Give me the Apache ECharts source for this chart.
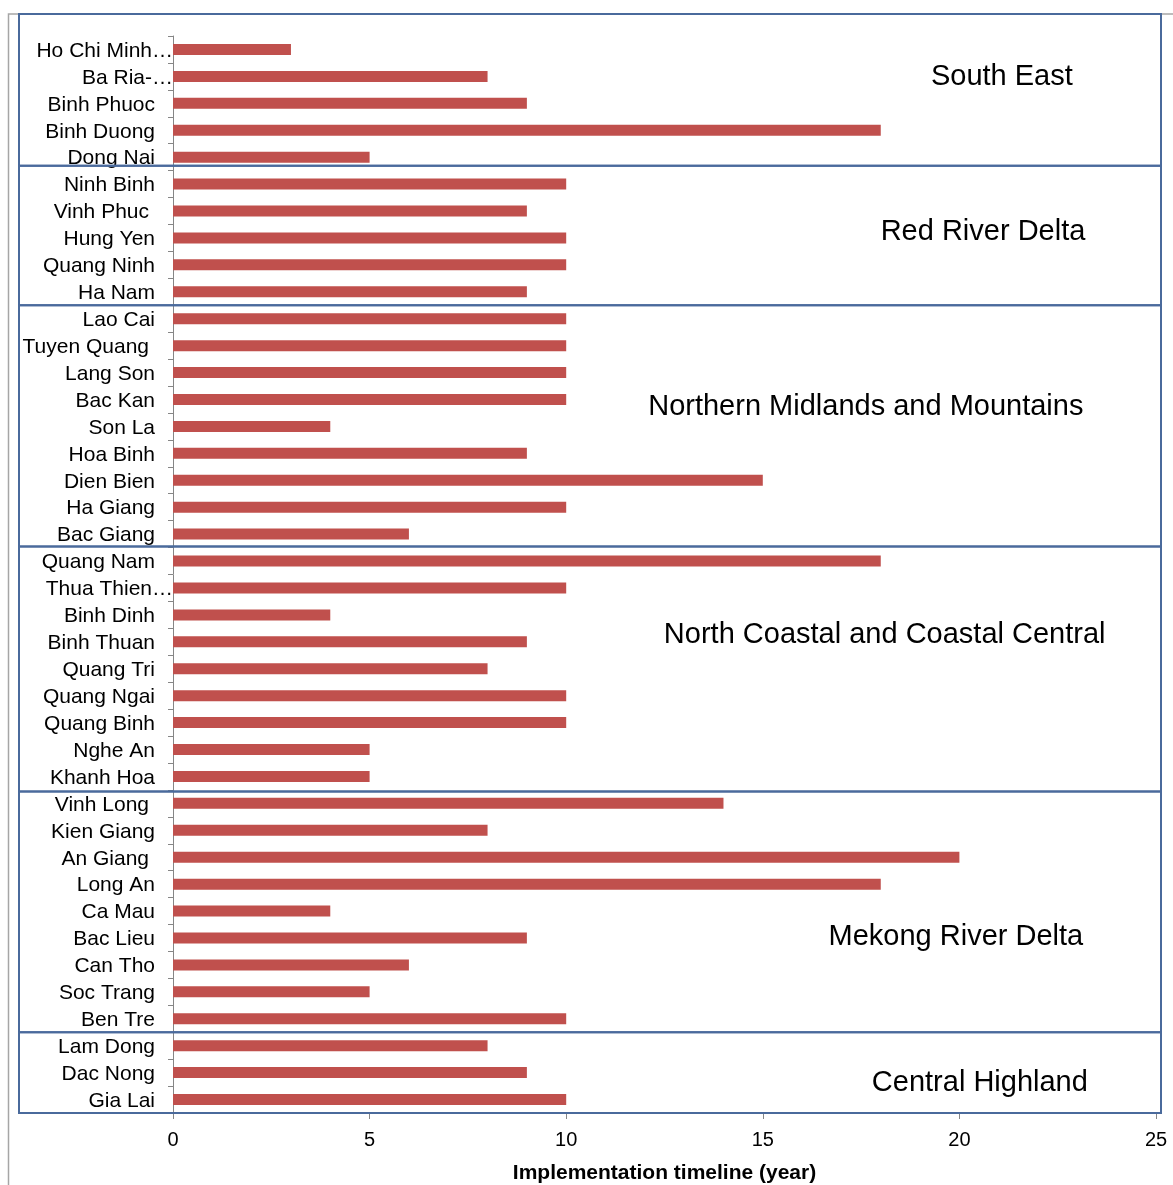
<!DOCTYPE html>
<html>
<head>
<meta charset="utf-8">
<script src="https://cdn.jsdelivr.net/npm/echarts@6/dist/echarts.min.js"></script>
<style>
  html, body { margin: 0; padding: 0; background: #fff; }
  #chart { width: 1173px; height: 1185px; }
</style>
</head>
<body>
<div id="chart"></div>
<script>
// Provinces, listed top to bottom, grouped by region
const provinces = [
  'Ho Chi Minh…', 'Ba Ria-…', 'Binh Phuoc', 'Binh Duong', 'Dong Nai',
  'Ninh Binh', 'Vinh Phuc', 'Hung Yen', 'Quang Ninh', 'Ha Nam',
  'Lao Cai', 'Tuyen Quang', 'Lang Son', 'Bac Kan', 'Son La', 'Hoa Binh', 'Dien Bien', 'Ha Giang', 'Bac Giang',
  'Quang Nam', 'Thua Thien…', 'Binh Dinh', 'Binh Thuan', 'Quang Tri', 'Quang Ngai', 'Quang Binh', 'Nghe An', 'Khanh Hoa',
  'Vinh Long', 'Kien Giang', 'An Giang', 'Long An', 'Ca Mau', 'Bac Lieu', 'Can Tho', 'Soc Trang', 'Ben Tre',
  'Lam Dong', 'Dac Nong', 'Gia Lai'
];

// Implementation timeline in years
const years = [
  3, 8, 9, 18, 5,
  10, 9, 10, 10, 9,
  10, 10, 10, 10, 4, 9, 15, 10, 6,
  18, 10, 4, 9, 8, 10, 10, 5, 5,
  14, 8, 20, 18, 4, 9, 6, 5, 10,
  8, 9, 10
];

// Regions and how many provinces each covers
const regionNames = [
  'South East', 'Red River Delta', 'Northern Midlands and Mountains',
  'North Coastal and Coastal Central', 'Mekong River Delta', 'Central Highland'
];
const regionSizes = [5, 5, 9, 9, 9, 3];

// Axis ticks
const xTicks = [0, 5, 10, 15, 20, 25];

// Where each region caption sits, in axis units: [years, row index]
const regionCaptionAt = [
  [21.08, 1.02], [20.6, 6.78], [17.62, 13.27], [18.1, 21.76], [19.91, 32.96], [20.52, 38.37]
];

// Small pixel nudges for the lines between region boxes (top to bottom)
const boxEdgeNudge = [-5, 0, -1, 1.5, 0];

// Labels drawn a little further left
const insetLabels = ['Vinh Phuc', 'Tuyen Quang', 'Vinh Long', 'An Giang'];

const FONT = '"Liberation Sans", Arial, sans-serif';
const AXIS_GREY = '#868686';
const BOX_BLUE = '#4A6A9C';

const chart = echarts.init(document.getElementById('chart'), null, { renderer: 'canvas' });

const labelStyle = (rightPad) => ({
  fontFamily: FONT, fontSize: 21, color: '#000', padding: [3, rightPad, 0, 0]
});

chart.setOption({
  animation: false,
  backgroundColor: '#fff',
  grid: { left: 173, right: 17, top: 36, bottom: 72, containLabel: false, outerBoundsMode: 'none' },
  xAxis: {
    type: 'value',
    min: xTicks[0],
    max: xTicks[xTicks.length - 1],
    interval: xTicks[1] - xTicks[0],
    name: 'Implementation timeline (year)',
    nameLocation: 'middle',
    nameGap: 50,
    nameTextStyle: { fontFamily: FONT, fontSize: 21, fontWeight: 'bold', color: '#000' },
    axisLine: { show: true, lineStyle: { color: AXIS_GREY, width: 1 } },
    axisTick: { show: true, inside: false, length: 6, lineStyle: { color: AXIS_GREY } },
    axisLabel: { fontFamily: FONT, fontSize: 20, color: '#000', margin: 17 },
    splitLine: { show: false }
  },
  yAxis: {
    type: 'category',
    inverse: true,
    data: provinces,
    axisLine: { show: true, lineStyle: { color: AXIS_GREY, width: 1 } },
    axisTick: { show: true, inside: false, length: 5, alignWithLabel: false, lineStyle: { color: AXIS_GREY } },
    axisLabel: {
      margin: 0,
      interval: 0,
      formatter: function (v) {
        if (v.indexOf('…') >= 0) return '{cut|' + v + '}';
        if (insetLabels.indexOf(v) >= 0) return '{inset|' + v + '}';
        return '{std|' + v + '}';
      },
      rich: {
        std: labelStyle(18),
        inset: labelStyle(24),
        cut: labelStyle(0)
      }
    },
    splitLine: { show: false }
  },
  series: [{
    type: 'bar',
    data: years,
    barWidth: 11,
    itemStyle: { color: '#C0504D' },
    z: 2
  }]
});

// Region boxes and captions, placed through the axes
function drawRegions() {
  const rowY = i => chart.convertToPixel({ yAxisIndex: 0 }, i);
  const colX = v => chart.convertToPixel({ xAxisIndex: 0 }, v);
  const y0 = rowY(0);
  const step = rowY(1) - y0;
  const rowAt = f => y0 + f * step;
  const left = colX(0) - 154;
  const right = colX(xTicks[xTicks.length - 1]) + 5;
  const frameTop = rowAt(-0.5) - 22;

  const elements = [];

  // thin grey frame on the left and top
  elements.push({
    type: 'polyline',
    shape: { points: [[8.5, 1185], [8.5, frameTop], [1173, frameTop]] },
    style: { stroke: '#A6A6A6', lineWidth: 1.5, fill: null },
    z: 0
  });

  // edges between boxes
  const edges = [frameTop];
  let start = 0;
  regionSizes.forEach((n, k) => {
    start += n;
    const nudge = k < boxEdgeNudge.length ? boxEdgeNudge[k] : 0;
    edges.push(rowAt(start - 0.5) + nudge);
  });

  for (let k = 0; k < regionSizes.length; k++) {
    elements.push({
      type: 'rect',
      shape: { x: left, y: edges[k], width: right - left, height: edges[k + 1] - edges[k] },
      style: { stroke: BOX_BLUE, lineWidth: 2, fill: null },
      z: 10
    });
  }

  regionNames.forEach((name, k) => {
    const at = regionCaptionAt[k];
    elements.push({
      type: 'text',
      x: colX(at[0]),
      y: rowAt(at[1]),
      style: {
        text: name,
        fontFamily: FONT,
        fontSize: 29,
        fill: '#000',
        textAlign: 'center',
        textVerticalAlign: 'middle',
        verticalAlign: 'middle'
      },
      z: 11
    });
  });

  chart.setOption({ graphic: { elements: elements } });
}

drawRegions();
</script>
</body>
</html>
